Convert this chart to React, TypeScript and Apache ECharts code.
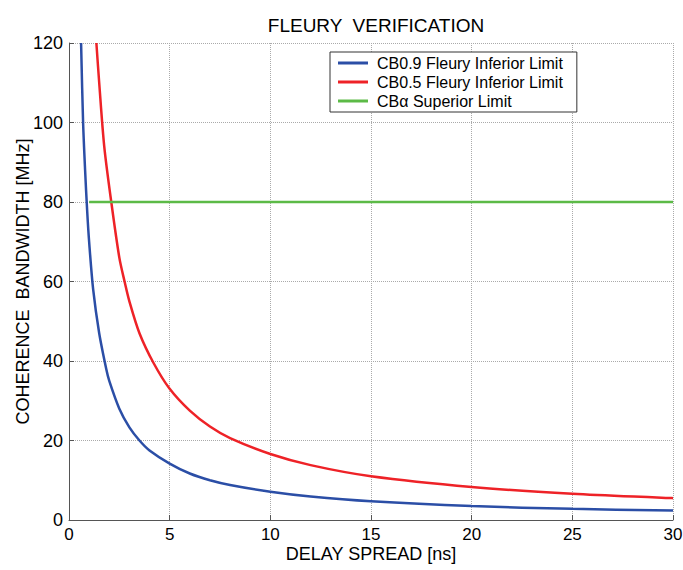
import React, { useEffect, useRef } from "react";
import * as echarts from "echarts";

const titleText = "FLEURY  VERIFICATION";
const xName = "DELAY SPREAD [ns]";
const yName = "COHERENCE  BANDWIDTH [MHz]";
const seriesNames = ["CB0.9 Fleury Inferior Limit", "CB0.5 Fleury Inferior Limit", "CBα Superior Limit"];
const seriesColors = ["#2b4ea6", "#ee2227", "#5cba47"];

const blueData: [number, number][] = [
  [0.6, 120], [0.7, 100], [0.8, 88], [0.9, 78], [1, 70], [1.2, 58], [1.5, 47], [1.85, 38],
  [2, 35], [2.5, 28], [3, 23.3], [3.5, 20], [4, 17.5], [5, 14.2], [6, 11.7], [7, 10],
  [8, 8.8], [10, 7.1], [12, 5.9], [15, 4.7], [20, 3.5], [25, 2.8], [30, 2.4],
];
const redData: [number, number][] = [
  [1.36, 120], [1.5, 110], [1.75, 94], [2.1, 80], [2.5, 66], [2.76, 60], [3, 55], [3.5, 47],
  [4.2, 39.5], [5, 33], [6, 27.5], [7, 23.5], [8, 20.6], [10, 16.6], [12, 13.8], [15, 11],
  [20, 8.3], [25, 6.6], [30, 5.5],
];
const greenData: [number, number][] = [[1, 80], [30, 80]];

const FONT = "Arial, 'Liberation Sans', sans-serif";

export default function App() {
  const ref = useRef<HTMLDivElement>(null);
  useEffect(() => {
    if (!ref.current) return;
    const chart = echarts.init(ref.current, null, { renderer: "svg" });
    const datasets = [blueData, redData, greenData];
    chart.setOption({
      animation: false,
      backgroundColor: "#ffffff",
      title: {
        text: titleText,
        left: 371,
        top: 11,
        textAlign: "center",
        textStyle: { fontFamily: FONT, fontSize: 19, fontWeight: "normal", color: "#000" },
      },
      legend: {
        orient: "vertical",
        left: 330,
        top: 52,
        padding: [3, 14, 3, 8],
        itemGap: 3,
        itemWidth: 30,
        itemHeight: 3,
        icon: "rect",
        borderColor: "#333",
        borderWidth: 1,
        backgroundColor: "#fff",
        data: seriesNames,
        textStyle: { fontFamily: FONT, fontSize: 16, color: "#000", padding: [0, 0, 0, 4] },
      },
      grid: { left: 69, right: 10, top: 43, bottom: 50, containLabel: false, outerBoundsMode: "none" },
      xAxis: {
        type: "value",
        min: 0,
        max: 30,
        interval: 5,
        name: xName,
        nameLocation: "middle",
        nameGap: 25,
        nameMoveOverlap: false,
        nameTextStyle: { fontFamily: FONT, fontSize: 18, color: "#000" },
        axisLine: { lineStyle: { color: "#555", width: 1 } },
        axisTick: { inside: true, length: 5, lineStyle: { color: "#555" } },
        axisLabel: { fontFamily: FONT, fontSize: 17, color: "#000", margin: 6 },
        splitLine: { show: true, lineStyle: { type: "dotted", color: "#aaa" } },
      },
      yAxis: {
        type: "value",
        min: 0,
        max: 120,
        interval: 20,
        name: yName,
        nameLocation: "middle",
        nameGap: 37,
        nameMoveOverlap: false,
        nameTextStyle: { fontFamily: FONT, fontSize: 18, color: "#000" },
        axisLine: { show: true, lineStyle: { color: "#555", width: 1 } },
        axisTick: { show: true, inside: true, length: 5, lineStyle: { color: "#555" } },
        axisLabel: { fontFamily: FONT, fontSize: 18, color: "#000", margin: 6 },
        splitLine: { show: true, lineStyle: { type: "dotted", color: "#aaa" } },
      },
      series: seriesNames.map((name, i) => ({
        name,
        type: "line",
        data: datasets[i],
        smooth: i < 2 ? 0.3 : false,
        showSymbol: false,
        symbol: "none",
        clip: true,
        color: seriesColors[i],
        lineStyle: { color: seriesColors[i], width: 2.5 },
      })),
    });
    return () => chart.dispose();
  }, []);
  return <div ref={ref} style={{ width: 683, height: 570, position: "absolute", left: 0, top: 0 }} />;
}
